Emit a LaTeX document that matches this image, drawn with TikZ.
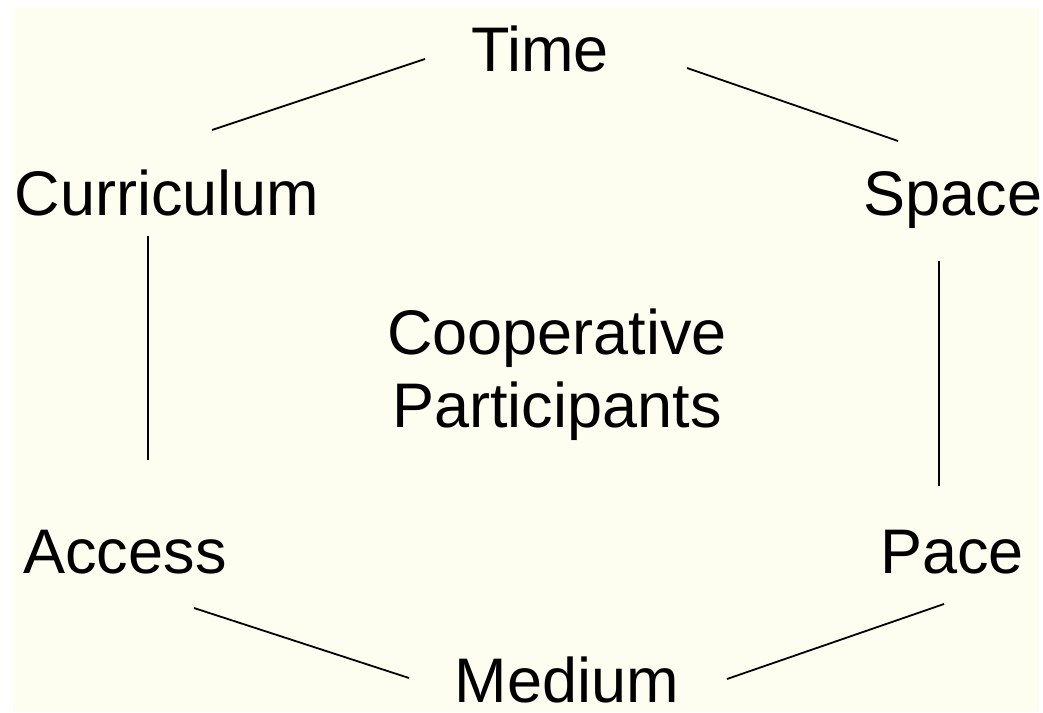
\documentclass[tikz,border=0pt]{standalone}
\usepackage{fontspec}
\setmainfont{Liberation Sans}
\usepackage{tikz}
\definecolor{paper}{RGB}{254,254,240}

\begin{document}
\begin{tikzpicture}[x=1pt, y=-1pt, every node/.style={inner sep=0pt, font=\fontsize{63}{73}\selectfont},
		link/.style={line width=1.8pt}, post/.style={line width=2.6pt}]
				\useasboundingbox (0,0) rectangle (1043,712);
				\fill[white] (0,0) rectangle (1043,712);
				\fill[paper] (13,7) rectangle (1039,712);

				\node[anchor=base] (time) at (540,71) {Time};
				\node[anchor=base] (curr) at (167,215) {Curriculum};
				\node[anchor=base] (space) at (953,215) {Space};
				\node[anchor=base] (acc) at (125,573) {Access};
				\node[anchor=base] (pace) at (952,573) {Pace};
				\node[anchor=base] (med) at (567,702) {Medium};
				\node[align=center] (coop) at (557,375) {Cooperative\\Participants};

				\draw[link] ([shift={(-115,-12)}]time.base) -- ([shift={(45,-85)}]curr.base);
				\draw[link] ([shift={(147,-3)}]time.base) -- ([shift={(-55,-74)}]space.base);
				\draw[post] ([shift={(-19,21)}]curr.base) -- ([shift={(23,-113)}]acc.base);
				\draw[post] ([shift={(-14,46)}]space.base) -- ([shift={(-13,-87)}]pace.base);
				\draw[link] ([shift={(69,35)}]acc.base) -- ([shift={(-158,-24)}]med.base);
				\draw[link] ([shift={(-8,31)}]pace.base) -- ([shift={(160,-23)}]med.base);

			\end{tikzpicture}
\end{document}
